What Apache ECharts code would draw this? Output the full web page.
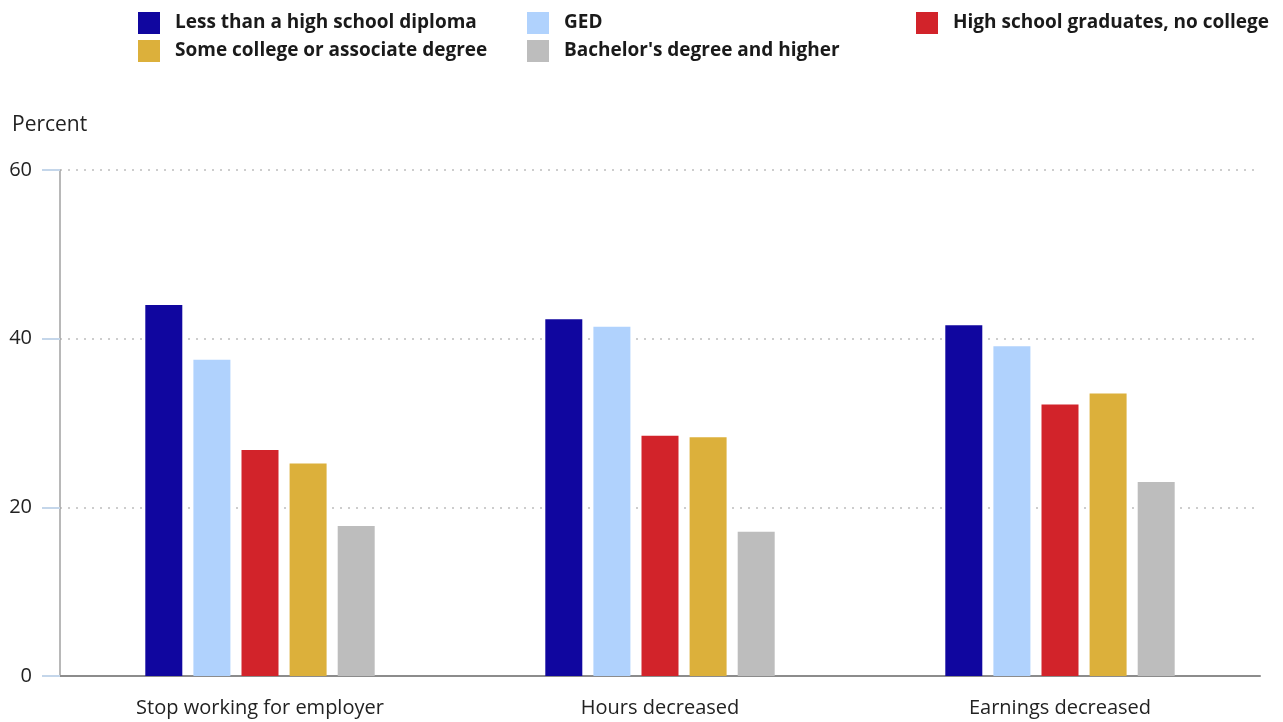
<!DOCTYPE html>
<html>
<head>
<meta charset="utf-8">
<script src="https://cdn.jsdelivr.net/npm/echarts@6/dist/echarts.min.js"></script>
<style>
  html, body { margin: 0; padding: 0; background: #fff; }
  #chart { width: 1283px; height: 722px; }
</style>
</head>
<body>
<div id="chart"></div>
<script>
// Categories on the x axis
const categories = ['Stop working for employer', 'Hours decreased', 'Earnings decreased'];

// Series names, in drawing order
const seriesNames = [
  'Less than a high school diploma',
  'GED',
  'High school graduates, no college',
  'Some college or associate degree',
  "Bachelor's degree and higher"
];

// Percent values per education group
const lessThanHighSchool = [44.0, 42.3, 41.6];
const ged = [37.5, 41.4, 39.1];
const highSchoolNoCollege = [26.8, 28.5, 32.2];
const someCollege = [25.2, 28.3, 33.5];
const bachelorsPlus = [17.8, 17.1, 23.0];

// Y axis ticks
const yTicks = [0, 20, 40, 60];

const seriesValues = [lessThanHighSchool, ged, highSchoolNoCollege, someCollege, bachelorsPlus];
const colors = ['#10069f', '#b0d2fd', '#d2232a', '#dcb03b', '#bdbdbd'];

const font = '"Open Sans", "Noto Sans", sans-serif';

// Legend placed as a 3-column, 2-row block
const legendSlots = [
  { name: seriesNames[0], left: 138, top: 12 },
  { name: seriesNames[1], left: 527, top: 12 },
  { name: seriesNames[2], left: 916, top: 12 },
  { name: seriesNames[3], left: 138, top: 40 },
  { name: seriesNames[4], left: 527, top: 40 }
];

const chart = echarts.init(document.getElementById('chart'), null, { renderer: 'canvas' });

chart.setOption({
  animation: false,
  color: colors,
  textStyle: { fontFamily: font },
  legend: legendSlots.map(s => ({
    data: [s.name],
    left: s.left,
    top: s.top,
    padding: 0,
    itemWidth: 22,
    itemHeight: 22,
    icon: 'rect',
    selectedMode: false,
    textStyle: {
      fontFamily: font,
      fontSize: 19,
      fontWeight: 'bold',
      color: '#1a1a1a',
      padding: [4, 0, 0, 10]
    }
  })),
  graphic: [{
    type: 'text',
    left: 12,
    top: 115,
    style: { text: 'Percent', font: '21px ' + font, fill: '#222' }
  }],
  grid: { left: 60, right: 23, top: 170, bottom: 46, containLabel: false },
  xAxis: {
    type: 'category',
    data: categories,
    axisLine: { show: true, lineStyle: { color: '#8c8c8c', width: 2 } },
    axisTick: { show: false },
    axisLabel: { fontSize: 20, color: '#222', margin: 22, fontFamily: font },
    splitLine: { show: false }
  },
  yAxis: {
    type: 'value',
    min: yTicks[0],
    max: yTicks[yTicks.length - 1],
    interval: 20,
    axisLine: { show: true, lineStyle: { color: '#a0a0a0', width: 1.5 } },
    axisTick: { show: true, length: 18, lineStyle: { color: '#c4d6ea', width: 2 } },
    axisLabel: { fontSize: 20, color: '#222', margin: 28, fontFamily: font },
    splitLine: { show: true, lineStyle: { color: '#bdbdbd', width: 1.5, type: [2, 6] } }
  },
  series: seriesNames.map((name, i) => ({
    name,
    type: 'bar',
    data: seriesValues[i],
    barWidth: 37,
    barGap: '30%',
    itemStyle: { color: colors[i] }
  }))
});
</script>
</body>
</html>
